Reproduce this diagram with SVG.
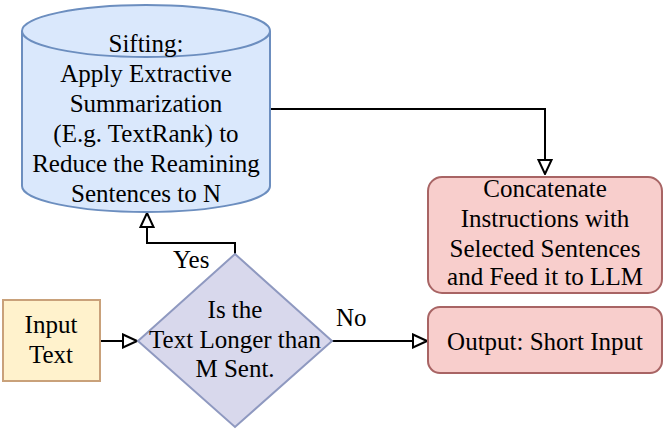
<svg xmlns="http://www.w3.org/2000/svg" width="665" height="431" viewBox="0 0 665 431">
<defs>
<style>
text{font-family:"Liberation Serif","Times New Roman",serif;font-size:25px;fill:#000;text-anchor:middle}
.lbl{text-anchor:start}
.edge{fill:none;stroke:#000;stroke-width:2}
</style>
<marker id="tri" viewBox="0 0 16 16" refX="15" refY="8" markerWidth="16" markerHeight="16" markerUnits="userSpaceOnUse" orient="auto">
<path d="M1,1.5 L15,8 L1,14.5 Z" fill="#fff" stroke="#000" stroke-width="2"/>
</marker>
</defs>
<rect width="665" height="431" fill="#fff"/>
<g id="connectors">
<path class="edge" d="M270,109 H545 V174" marker-end="url(#tri)"/>
<path class="edge" d="M100,341 H137" marker-end="url(#tri)"/>
<path class="edge" d="M235,254 V243 H147 V213" marker-end="url(#tri)"/>
<path class="edge" d="M332,341 H427" marker-end="url(#tri)"/>
<text class="lbl" x="173" y="268">Yes</text>
<text class="lbl" x="336" y="326">No</text>
</g>
<g id="sifting">
<path d="M22,31 A124,26 0 0 1 270,31 V186 A124,26 0 0 1 22,186 Z" fill="#dae8fc" stroke="#6c8ebf" stroke-width="2"/>
<path d="M22,31 A124,26 0 0 0 270,31" fill="none" stroke="#6c8ebf" stroke-width="2"/>
<text x="146" y="52">Sifting:</text>
<text x="146" y="82">Apply Extractive</text>
<text x="146" y="112">Summarization</text>
<text x="146" y="142">(E.g. TextRank) to</text>
<text x="146" y="172">Reduce the Reamining</text>
<text x="146" y="202">Sentences to N</text>
</g>
<g id="input">
<rect x="3" y="300" width="97" height="81" fill="#fff2cc" stroke="#c9a17a" stroke-width="2"/>
<text x="51" y="333">Input</text>
<text x="51" y="363">Text</text>
</g>
<g id="decision">
<path d="M235,254 L332,341 L235,427 L138,341 Z" fill="#d8d8ec" stroke="#8f99c0" stroke-width="2"/>
<text x="235" y="318">Is the</text>
<text x="235" y="348">Text Longer than</text>
<text x="235" y="377">M Sent.</text>
</g>
<g id="concat">
<rect x="428" y="177" width="234" height="116" rx="14" fill="#f8cecc" stroke="#a86464" stroke-width="2"/>
<text x="545" y="197">Concatenate</text>
<text x="545" y="227">Instructions with</text>
<text x="545" y="257">Selected Sentences</text>
<text x="545" y="285">and Feed it to LLM</text>
</g>
<g id="output">
<rect x="428" y="307" width="234" height="66" rx="12" fill="#f8cecc" stroke="#a86464" stroke-width="2"/>
<text x="545" y="350">Output: Short Input</text>
</g>
</svg>
